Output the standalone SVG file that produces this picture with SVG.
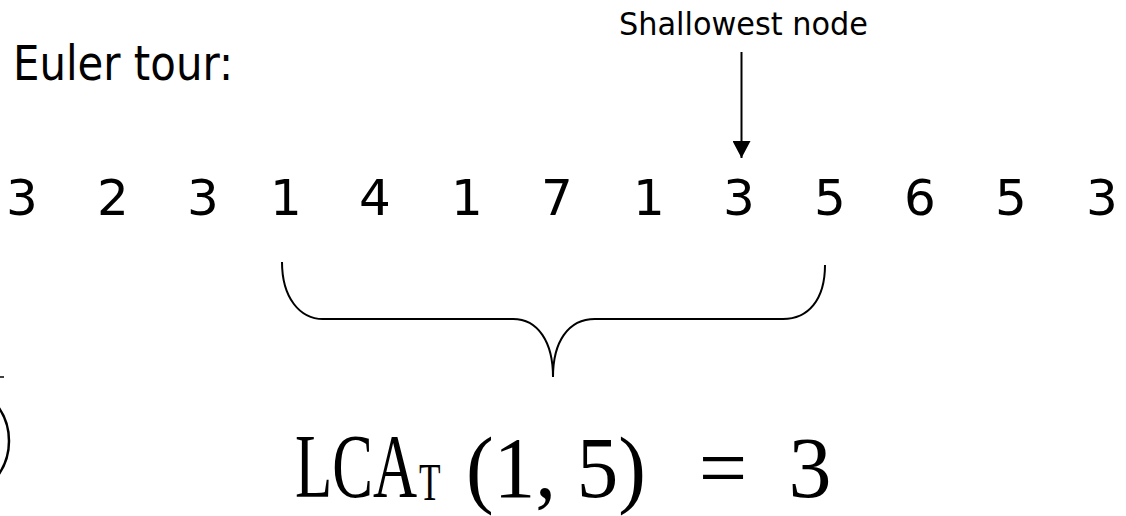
<svg xmlns="http://www.w3.org/2000/svg" width="1126" height="516" viewBox="0 0 1126 516">
  <style>
    .sans { font-family: "DejaVu Sans", "Liberation Sans", sans-serif; fill: #000; }
    .seq { font-size: 50px; text-anchor: middle; }
    .serif { font-family: "Liberation Serif", "DejaVu Serif", serif; fill: #000; }
    .big { font-size: 86px; }
    .line { fill: none; stroke: #000; stroke-width: 2; }
  </style>
  <defs>
    <marker id="arrow" viewBox="0 0 17 18" refX="17" refY="9" markerWidth="17" markerHeight="18" markerUnits="userSpaceOnUse" orient="auto">
      <path d="M0,0 L17,9 L0,18 Z" fill="#000"/>
    </marker>
  </defs>
  <rect width="1126" height="516" fill="#fff"/>

  <g id="title">
    <text class="sans" x="13" y="80" font-size="48" textLength="220" lengthAdjust="spacingAndGlyphs">Euler tour:</text>
  </g>

  <g id="annotation">
    <text class="sans" x="619" y="35" font-size="32" textLength="249" lengthAdjust="spacingAndGlyphs">Shallowest node</text>
  </g>

  <g id="sequence">
    <text class="sans seq" x="22 113 203 286 375 467 557 649 739 830 920 1011 1102" y="215">3231417135653</text>
  </g>

  <g id="connectors">
    <line class="line" x1="741.5" y1="52" x2="741.5" y2="158" marker-end="url(#arrow)"/>
  </g>

  <g id="brace">
    <path class="line" d="M282,262 C282,298 300,319 323,319 L513,319 C538,319 553,342 553,377 C553,342 568,319 595,319 L783,319 C808,319 825,300 825,265"/>
  </g>

  <g id="result">
    <text class="serif" transform="translate(295,497) scale(0.678,1)" x="0" y="0" font-size="90">LCA<tspan font-size="52" dx="3" dy="3">T</tspan></text>
    <text class="serif big" x="466" y="497" textLength="180" lengthAdjust="spacingAndGlyphs">(1, 5)</text>
    <text class="serif big" x="723" y="497" text-anchor="middle">=</text>
    <text class="serif big" x="810" y="497" text-anchor="middle">3</text>
  </g>

  <g id="tree-fragment">
    <line x1="0" y1="377" x2="4" y2="377" stroke="#000" stroke-width="1.5"/>
    <circle cx="-50" cy="441" r="59" fill="none" stroke="#000" stroke-width="2.5"/>
  </g>
</svg>
